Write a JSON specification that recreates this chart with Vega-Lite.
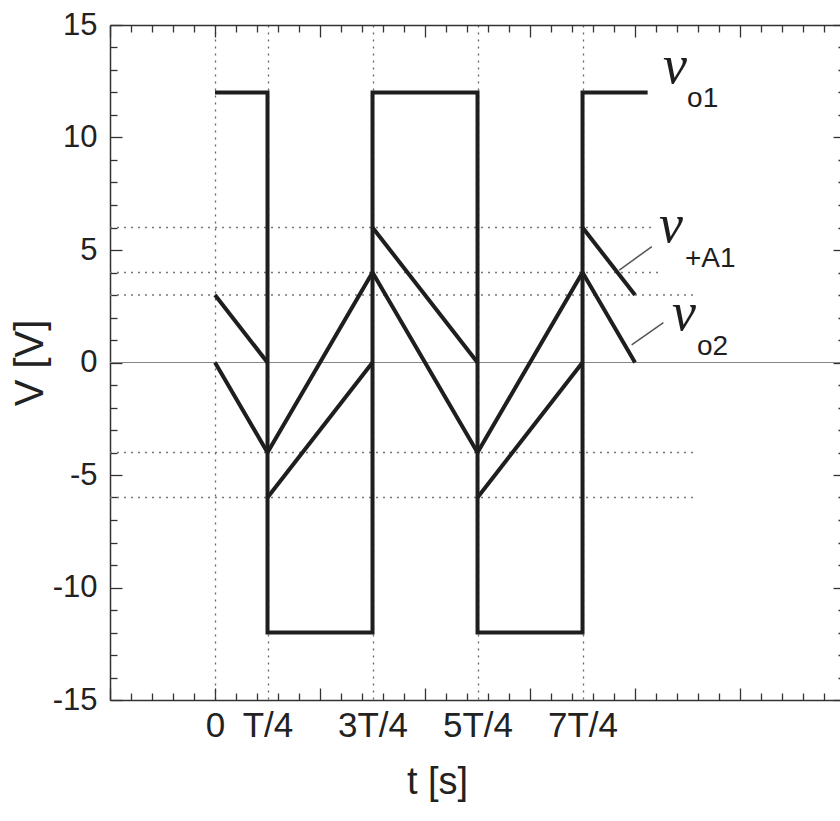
{
  "$schema": "https://vega.github.io/schema/vega-lite/v6.json",
  "autosize": {"type": "none"},
  "padding": {"left": 110, "top": 25, "right": 0, "bottom": 110},
  "width": 730,
  "height": 675,
  "background": "white",
  "config": {
    "view": {"stroke": null, "fill": null},
    "axis": {"labelFont": "Liberation Sans", "titleFont": "Liberation Sans", "domainColor": "#333", "domainWidth": 1.5, "tickColor": "#333", "tickWidth": 1.3, "labelColor": "#222", "titleColor": "#222"}
  },
  "datasets": {
    "waves": [
      {"series": "vo1", "seg": "vo1", "i": 0, "t": 0, "v": 12},
      {"series": "vo1", "seg": "vo1", "i": 1, "t": 0.25, "v": 12},
      {"series": "vo1", "seg": "vo1", "i": 2, "t": 0.25, "v": -12},
      {"series": "vo1", "seg": "vo1", "i": 3, "t": 0.75, "v": -12},
      {"series": "vo1", "seg": "vo1", "i": 4, "t": 0.75, "v": 12},
      {"series": "vo1", "seg": "vo1", "i": 5, "t": 1.25, "v": 12},
      {"series": "vo1", "seg": "vo1", "i": 6, "t": 1.25, "v": -12},
      {"series": "vo1", "seg": "vo1", "i": 7, "t": 1.75, "v": -12},
      {"series": "vo1", "seg": "vo1", "i": 8, "t": 1.75, "v": 12},
      {"series": "vo1", "seg": "vo1", "i": 9, "t": 2.06, "v": 12},
      {"series": "v+A1", "seg": "pa", "i": 0, "t": 0, "v": 3},
      {"series": "v+A1", "seg": "pa", "i": 1, "t": 0.25, "v": 0},
      {"series": "v+A1", "seg": "pb", "i": 0, "t": 0.25, "v": -6},
      {"series": "v+A1", "seg": "pb", "i": 1, "t": 0.75, "v": 0},
      {"series": "v+A1", "seg": "pc", "i": 0, "t": 0.75, "v": 6},
      {"series": "v+A1", "seg": "pc", "i": 1, "t": 1.25, "v": 0},
      {"series": "v+A1", "seg": "pd", "i": 0, "t": 1.25, "v": -6},
      {"series": "v+A1", "seg": "pd", "i": 1, "t": 1.75, "v": 0},
      {"series": "v+A1", "seg": "pe", "i": 0, "t": 1.75, "v": 6},
      {"series": "v+A1", "seg": "pe", "i": 1, "t": 2.0, "v": 3},
      {"series": "vo2", "seg": "vo2", "i": 0, "t": 0, "v": 0},
      {"series": "vo2", "seg": "vo2", "i": 1, "t": 0.25, "v": -4},
      {"series": "vo2", "seg": "vo2", "i": 2, "t": 0.75, "v": 4},
      {"series": "vo2", "seg": "vo2", "i": 3, "t": 1.25, "v": -4},
      {"series": "vo2", "seg": "vo2", "i": 4, "t": 1.75, "v": 4},
      {"series": "vo2", "seg": "vo2", "i": 5, "t": 2.0, "v": 0}
    ],
    "hlines": [
      {"v": 6, "t0": -0.5, "t1": 2.08},
      {"v": 4, "t0": -0.5, "t1": 2.11},
      {"v": 3, "t0": -0.5, "t1": 2.295},
      {"v": -4, "t0": -0.5, "t1": 2.3},
      {"v": -6, "t0": -0.5, "t1": 2.3}
    ],
    "zero": [{"v": 0}],
    "leaders": [
      {"t0": 1.925, "v0": 4.11, "t1": 2.08, "v1": 5.15},
      {"t0": 1.984, "v0": 0.78, "t1": 2.135, "v1": 1.77}
    ],
    "vlabels": [
      {"t": 2.19, "v": 12.42, "label": "v"},
      {"t": 2.171, "v": 5.36, "label": "v"},
      {"t": 2.233, "v": 1.44, "label": "v"}
    ],
    "subs": [
      {"t": 2.248, "v": 11.36, "label": "o1"},
      {"t": 2.238, "v": 4.24, "label": "+A1"},
      {"t": 2.295, "v": 0.33, "label": "o2"}
    ]
  },
  "layer": [
    {
      "data": {"name": "hlines"},
      "mark": {"type": "rule", "strokeDash": [2, 5], "color": "#777", "strokeWidth": 1.3},
      "encoding": {
        "x": {"field": "t0", "type": "quantitative", "scale": {"domain": [-0.5, 2.976], "nice": false, "zero": false},
          "axis": {"orient": "bottom", "values": [-0.5, 0, 0.5, 1, 1.5, 2, 2.5], "tickSize": -12, "labels": false, "domain": false, "grid": false, "title": null}},
        "x2": {"field": "t1"},
        "y": {"field": "v", "type": "quantitative", "scale": {"domain": [-15, 15], "nice": false, "zero": false},
          "axis": {"orient": "left", "values": [-15, -10, -5, 0, 5, 10, 15], "tickSize": -12, "labels": false, "domain": false, "grid": false, "title": null}}
      }
    },
    {
      "data": {"name": "zero"},
      "mark": {"type": "rule", "color": "#888", "strokeWidth": 1.2},
      "encoding": {
        "y": {"field": "v", "type": "quantitative", "scale": {"domain": [-15, 15], "nice": false, "zero": false},
          "axis": {"orient": "left", "values": [-14, -13, -12, -11, -9, -8, -7, -6, -4, -3, -2, -1, 1, 2, 3, 4, 6, 7, 8, 9, 11, 12, 13, 14], "tickSize": -7, "labels": false, "domain": false, "grid": false, "title": null}}
      }
    },
    {
      "data": {"name": "waves"},
      "mark": {"type": "line", "color": "#1e1e1e", "strokeWidth": 4, "strokeJoin": "miter"},
      "encoding": {
        "x": {"field": "t", "type": "quantitative", "scale": {"domain": [-0.5, 2.976], "nice": false, "zero": false},
          "axis": {"orient": "bottom", "values": [0, 0.25, 0.75, 1.25, 1.75],
            "labelExpr": "datum.value == 0 ? '0' : datum.value == 0.25 ? 'T/4' : datum.value == 0.75 ? '3T/4' : datum.value == 1.25 ? '5T/4' : '7T/4'",
            "ticks": false, "domain": true, "grid": true, "gridDash": [2, 5], "gridColor": "#666", "gridWidth": 1.3,
            "labelFont": "Liberation Sans", "labelFontSize": 35, "labelPadding": 8, "labelFlush": false, "labelOverlap": false,
            "title": "t [s]", "titleFontSize": 38, "titleFontWeight": "normal", "titleX": 327, "titleY": 93, "titleBaseline": "alphabetic", "titleAlign": "center"}},
        "y": {"field": "v", "type": "quantitative", "scale": {"domain": [-15, 15], "nice": false, "zero": false},
          "axis": {"orient": "left", "values": [-15, -10, -5, 0, 5, 10, 15], "ticks": false, "domain": true, "grid": false,
            "labelExpr": "datum.value + ''",
            "labelFontSize": 31, "labelPadding": 13, "labelFlush": false, "labelOverlap": false,
            "title": "V [V]", "titleFontSize": 40, "titleFontWeight": "normal", "titleAngle": -90, "titleX": -68, "titleY": 337.5, "titleBaseline": "alphabetic", "titleAlign": "center"}},
        "detail": {"field": "seg"},
        "order": {"field": "i"}
      }
    },
    {
      "data": {"name": "leaders"},
      "mark": {"type": "rule", "color": "#555", "strokeWidth": 1.5},
      "encoding": {
        "x": {"field": "t0", "type": "quantitative", "scale": {"domain": [-0.5, 2.976], "nice": false, "zero": false},
          "axis": {"orient": "bottom", "values": [-0.4, -0.3, -0.2, -0.1, 0.1, 0.2, 0.3, 0.4, 0.6, 0.7, 0.8, 0.9, 1.1, 1.2, 1.3, 1.4, 1.6, 1.7, 1.8, 1.9, 2.1, 2.2, 2.3, 2.4, 2.6, 2.7, 2.8, 2.9], "tickSize": -7, "labels": false, "domain": false, "grid": false, "title": null}},
        "x2": {"field": "t1"},
        "y": {"field": "v0", "type": "quantitative", "scale": {"domain": [-15, 15], "nice": false, "zero": false},
          "axis": {"orient": "right", "offset": 5, "values": [-15, -10, -5, 0, 5, 10, 15], "tickSize": -12, "labels": false, "domain": false, "grid": false, "title": null}},
        "y2": {"field": "v1"}
      }
    },
    {
      "data": {"name": "vlabels"},
      "mark": {"type": "text", "font": "Liberation Serif", "fontStyle": "italic", "fontSize": 54, "align": "center", "baseline": "alphabetic", "color": "#1e1e1e"},
      "encoding": {
        "x": {"field": "t", "type": "quantitative", "scale": {"domain": [-0.5, 2.976], "nice": false, "zero": false},
          "axis": {"orient": "top", "values": [-0.5, 0, 0.5, 1, 1.5, 2, 2.5], "tickSize": -12, "labels": false, "domain": true, "grid": false, "title": null}},
        "y": {"field": "v", "type": "quantitative", "scale": {"domain": [-15, 15], "nice": false, "zero": false},
          "axis": {"orient": "right", "offset": 5, "values": [-14, -13, -12, -11, -9, -8, -7, -6, -4, -3, -2, -1, 1, 2, 3, 4, 6, 7, 8, 9, 11, 12, 13, 14], "tickSize": -7, "labels": false, "domain": false, "grid": false, "title": null}},
        "text": {"field": "label"}
      }
    },
    {
      "data": {"name": "subs"},
      "mark": {"type": "text", "font": "Liberation Sans", "fontSize": 28, "align": "left", "baseline": "alphabetic", "color": "#1e1e1e"},
      "encoding": {
        "x": {"field": "t", "type": "quantitative", "scale": {"domain": [-0.5, 2.976], "nice": false, "zero": false},
          "axis": {"orient": "top", "values": [-0.4, -0.3, -0.2, -0.1, 0.1, 0.2, 0.3, 0.4, 0.6, 0.7, 0.8, 0.9, 1.1, 1.2, 1.3, 1.4, 1.6, 1.7, 1.8, 1.9, 2.1, 2.2, 2.3, 2.4, 2.6, 2.7, 2.8, 2.9], "tickSize": -7, "labels": false, "domain": false, "grid": false, "title": null}},
        "y": {"field": "v", "type": "quantitative", "scale": {"domain": [-15, 15], "nice": false, "zero": false}, "axis": null},
        "text": {"field": "label"}
      }
    }
  ],
  "resolve": {"axis": {"x": "independent", "y": "independent"}}
}
